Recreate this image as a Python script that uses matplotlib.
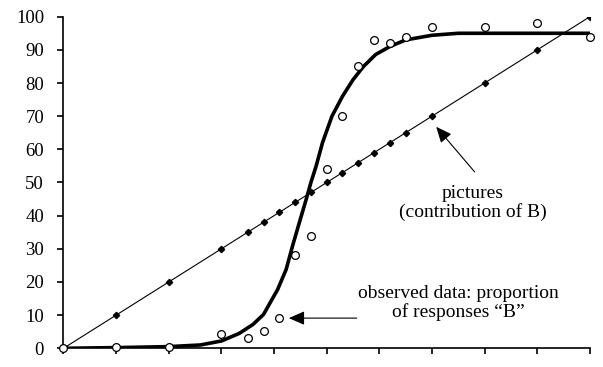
import matplotlib
matplotlib.use("Agg")
import matplotlib.pyplot as plt

# Data
x_pts = [0, 10, 20, 30, 35, 38, 41, 44, 47, 50, 53, 56, 59, 62, 65, 70, 80, 90, 100]
pictures_y = [0, 10, 20, 30, 35, 38, 41, 44, 47, 50, 53, 56, 59, 62, 65, 70, 80, 90, 100]
observed_y = [0, 0.5, 0.5, 4.4, 3.2, 5.2, 9, 28, 34, 54, 70, 85, 93, 92, 94, 97, 97, 98, 94]

fit_x = [0, 10, 20, 26, 30, 33.4, 36, 38, 39.1, 40.7, 42.3, 43.5, 44.8, 46.1, 47, 48,
         49.2, 51, 53, 55, 57, 59.3, 62, 65, 70, 75, 100]
fit_y = [0, 0.2, 0.5, 1.0, 2.2, 4.5, 7.2, 10.2, 13.3, 17.8, 23.8, 30.8, 37.9, 44.9, 50, 55,
         62, 70, 76, 81, 85, 88.6, 91, 93, 94.4, 95, 95]

y_ticks = list(range(0, 101, 10))
x_ticks = list(range(0, 101, 10))

fig = plt.figure(figsize=(6.03, 3.67), dpi=100)
ax = fig.add_axes([0.1053, 0.051, 0.873, 0.9035])

serif = ["Liberation Serif", "DejaVu Serif"]

ax.plot(x_pts, pictures_y, color="black", lw=0.8, marker="D", ms=3.2,
        markerfacecolor="black", zorder=2)
ax.plot(fit_x, fit_y, color="black", lw=2.6, solid_joinstyle="round", zorder=3)
ax.plot(x_pts, observed_y, linestyle="none", marker="o", ms=5.6,
        markerfacecolor="white", markeredgecolor="black", markeredgewidth=0.9,
        zorder=4, clip_on=False)

ax.set_xlim(0, 100)
ax.set_ylim(0, 100)
ax.set_xticks(x_ticks)
ax.set_xticklabels([])
ax.set_yticks(y_ticks)
ax.set_yticklabels([str(v) for v in y_ticks], fontfamily=serif, fontsize=13.5)
ax.tick_params(axis="y", direction="out", length=4, width=1.2, pad=10, colors="black")
ax.tick_params(axis="x", direction="out", length=4, width=1.2)
for s in ["top", "right"]:
    ax.spines[s].set_visible(False)
for s in ["left", "bottom"]:
    ax.spines[s].set_linewidth(1.2)

ax.text(77.8, 43.8, "pictures\n(contribution of B)", ha="center", va="center",
        fontfamily=serif, fontsize=14, linespacing=1.1)
ax.text(75.0, 13.6, "observed data: proportion\nof responses \u201cB\u201d", ha="center",
        va="center", fontfamily=serif, fontsize=14, linespacing=1.1)

ax.annotate("", xy=(70.8, 66.8), xytext=(78.1, 53.2),
            arrowprops=dict(arrowstyle="-|>,head_length=0.8,head_width=0.35",
                            color="black", lw=0.8, shrinkA=0, shrinkB=0,
                            mutation_scale=12))
ax.annotate("", xy=(42.8, 9.1), xytext=(55.7, 9.1),
            arrowprops=dict(arrowstyle="-|>,head_length=0.8,head_width=0.35",
                            color="black", lw=0.8, shrinkA=0, shrinkB=0,
                            mutation_scale=12))

fig.savefig("out.png", dpi=100)
